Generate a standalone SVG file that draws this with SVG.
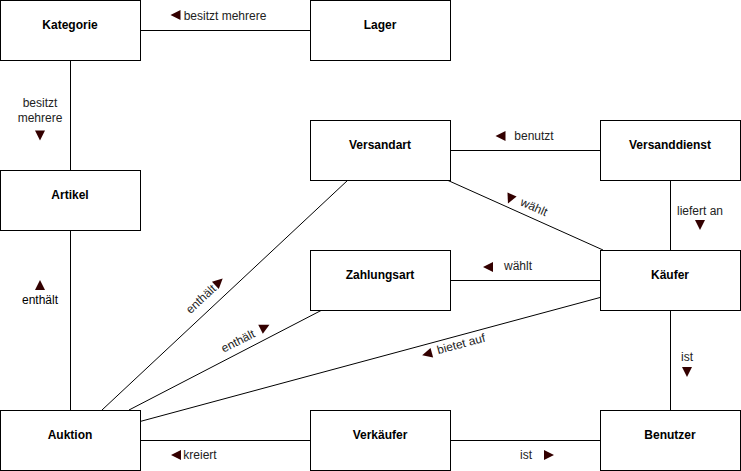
<svg xmlns="http://www.w3.org/2000/svg" xmlns:xlink="http://www.w3.org/1999/xlink" width="741" height="471" viewBox="0 0 741 471">
<style>
.box{fill:#fff;stroke:#000;stroke-width:1}
.nl{font-family:"Liberation Sans",Arial,sans-serif;font-size:12px;font-weight:bold;fill:#000;text-anchor:middle}
.edge{stroke:#000;stroke-width:1;fill:none}
.lbl{font-family:"Liberation Sans",Arial,sans-serif;font-size:12px;fill:#222;text-anchor:middle}
.tri{fill:#330000}
</style>
<defs>
<path id="tri" d="M-5,-5 L5,0 L-5,5 Z"/>
</defs>
<rect width="741" height="471" fill="#fff"/>
<g id="connectors">
<line class="edge" x1="140" y1="30.5" x2="310" y2="30.5"/>
<line class="edge" x1="70.5" y1="60" x2="70.5" y2="170"/>
<line class="edge" x1="70.5" y1="230" x2="70.5" y2="410"/>
<line class="edge" x1="450" y1="150.5" x2="600" y2="150.5"/>
<line class="edge" x1="670.5" y1="180" x2="670.5" y2="250"/>
<line class="edge" x1="450" y1="280.5" x2="600" y2="280.5"/>
<line class="edge" x1="447" y1="180" x2="603" y2="250"/>
<line class="edge" x1="600" y1="297.5" x2="140" y2="421.5"/>
<line class="edge" x1="348" y1="180" x2="102" y2="410"/>
<line class="edge" x1="322" y1="310" x2="129" y2="410"/>
<line class="edge" x1="140" y1="440.5" x2="310" y2="440.5"/>
<line class="edge" x1="450" y1="440.5" x2="600" y2="440.5"/>
<line class="edge" x1="670.5" y1="310" x2="670.5" y2="410"/>
<!-- labels -->
<use class="tri" href="#tri" transform="translate(175.5,15) rotate(180)"/>
<text class="lbl" x="225" y="19.5">besitzt mehrere</text>
<text class="lbl" x="40" y="107">besitzt</text>
<text class="lbl" x="40" y="122">mehrere</text>
<use class="tri" href="#tri" transform="translate(40,135.5) rotate(90)"/>
<use class="tri" href="#tri" transform="translate(40,285) rotate(-90)"/>
<text class="lbl" x="40" y="304" style="fill:#000">enthält</text>
<use class="tri" href="#tri" transform="translate(500.5,136) rotate(180)"/>
<text class="lbl" x="534" y="139.5">benutzt</text>
<text class="lbl" x="700" y="215">liefert an</text>
<use class="tri" href="#tri" transform="translate(700,225) rotate(90)"/>
<use class="tri" href="#tri" transform="translate(488,267) rotate(180)"/>
<text class="lbl" x="518" y="270">wählt</text>
<use class="tri" href="#tri" transform="translate(510,199) rotate(114)"/>
<text class="lbl" transform="translate(534,207) rotate(24)" y="4">wählt</text>
<use class="tri" href="#tri" transform="translate(427,354) rotate(165)"/>
<text class="lbl" transform="translate(461,344) rotate(-15)" y="4">bietet auf</text>
<text class="lbl" transform="translate(201,299) rotate(-43)" y="4">enthält</text>
<use class="tri" href="#tri" transform="translate(219,282) rotate(-43)"/>
<text class="lbl" transform="translate(238,341) rotate(-27)" y="4">enthält</text>
<use class="tri" href="#tri" transform="translate(265,327) rotate(-27)"/>
<use class="tri" href="#tri" transform="translate(176,455) rotate(180)"/>
<text class="lbl" x="200" y="459">kreiert</text>
<text class="lbl" x="526" y="459">ist</text>
<use class="tri" href="#tri" transform="translate(549,455)"/>
<text class="lbl" x="687" y="361">ist</text>
<use class="tri" href="#tri" transform="translate(687,372) rotate(90)"/>
</g>
<g id="Kategorie"><rect class="box" x="0.5" y="0.5" width="140" height="60"/><text class="nl" x="70" y="29">Kategorie</text></g>
<g id="Lager"><rect class="box" x="310.5" y="0.5" width="140" height="60"/><text class="nl" x="380" y="29">Lager</text></g>
<g id="Artikel"><rect class="box" x="0.5" y="170.5" width="140" height="60"/><text class="nl" x="70" y="199">Artikel</text></g>
<g id="Versandart"><rect class="box" x="310.5" y="120.5" width="140" height="60"/><text class="nl" x="380" y="149">Versandart</text></g>
<g id="Versanddienst"><rect class="box" x="600.5" y="120.5" width="140" height="60"/><text class="nl" x="670" y="149">Versanddienst</text></g>
<g id="Zahlungsart"><rect class="box" x="310.5" y="250.5" width="140" height="60"/><text class="nl" x="380" y="279">Zahlungsart</text></g>
<g id="Kaeufer"><rect class="box" x="600.5" y="250.5" width="140" height="60"/><text class="nl" x="670" y="279">Käufer</text></g>
<g id="Auktion"><rect class="box" x="0.5" y="410.5" width="140" height="60"/><text class="nl" x="70" y="439">Auktion</text></g>
<g id="Verkaeufer"><rect class="box" x="310.5" y="410.5" width="140" height="60"/><text class="nl" x="380" y="439">Verkäufer</text></g>
<g id="Benutzer"><rect class="box" x="600.5" y="410.5" width="140" height="60"/><text class="nl" x="670" y="439">Benutzer</text></g>
</svg>
